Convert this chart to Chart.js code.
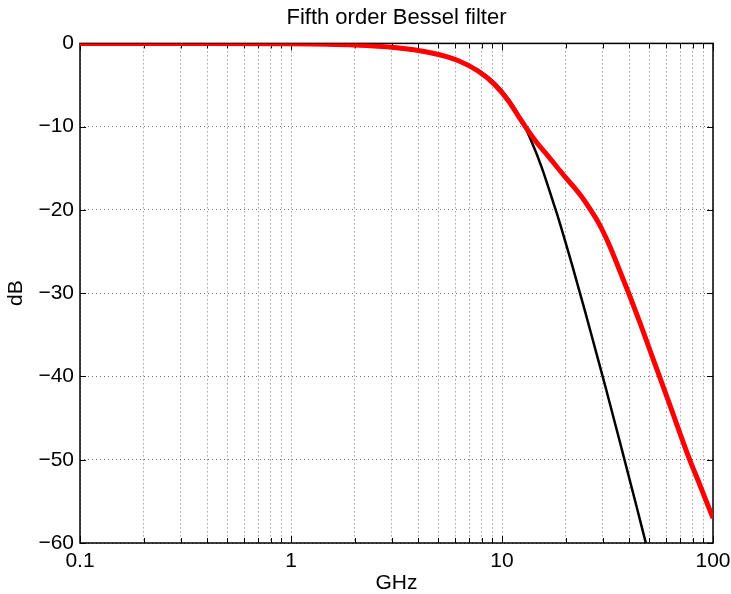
<!DOCTYPE html>
<html>
<head>
<meta charset="utf-8">
<script src="https://cdn.jsdelivr.net/npm/chart.js@4/dist/chart.umd.min.js"></script>
<style>
  html, body { margin: 0; padding: 0; background: #fff; }
  #wrap { width: 731px; height: 594px; }
</style>
</head>
<body>
<div id="wrap"><canvas id="besselChart" width="731" height="594"></canvas></div>
<script>
// Fifth order Bessel filter - magnitude response
const freqBlack = [0.1, 0.3, 0.5, 1, 1.55, 2, 3.09, 4.64, 6.18, 7.73, 9.27, 10.8, 12.36, 13.9, 15.45, 17.6, 18.5, 21.6, 24.7, 27.8, 30.9, 37.1, 43.3, 49.4];
const dbBlack   = [0, -0.01, -0.02, -0.05, -0.12, -0.2, -0.49, -1.11, -2.0, -3.21, -4.78, -6.77, -9.19, -11.96, -14.94, -19.3, -21.0, -26.8, -32.1, -36.9, -41.2, -48.9, -55.5, -61.2];

const freqRed = [0.1, 0.3, 1, 2, 3.09, 4.64, 6.18, 7.73, 9.27, 10.8, 12, 12.9, 14.7, 16.5, 18.3, 20, 22, 24, 26, 28, 30, 33, 36, 40, 45, 50, 55.6, 62, 69, 77, 85, 92, 100];
const dbRed   = [0, -0.01, -0.05, -0.2, -0.5, -1.15, -2.05, -3.35, -5.0, -7.0, -8.8, -10, -12, -13.5, -14.9, -16.1, -17.3, -18.5, -19.8, -21.1, -22.5, -24.8, -27.2, -30.1, -33.5, -36.7, -39.9, -43.2, -46.5, -49.8, -52.5, -54.7, -57];

// axis ticks
const xMajorTicks = [0.1, 1, 10, 100];
const xTickLabels = ['0.1', '1', '10', '100'];
const xMinorSteps = [2, 3, 4, 5, 6, 7, 8, 9];
const yTicks = [0, -10, -20, -30, -40, -50, -60];

// every grid position on the log axis: decades plus 2..9 in between
const xGridValues = [];
xMajorTicks.forEach((d, i) => {
  xGridValues.push(d);
  if (i < xMajorTicks.length - 1) {
    xMinorSteps.forEach(m => xGridValues.push(Number((m * d).toPrecision(3))));
  }
});

const toPoints = (xs, ys) => xs.map((x, i) => ({ x: x, y: ys[i] }));

const FONT = "'Liberation Sans', Arial, Helvetica, sans-serif";

// box around the axes with inward tick marks (MATLAB style)
const axesBox = {
  id: 'axesBox',
  beforeDatasetsDraw(chart) {
    const { ctx, chartArea: a, scales: { x, y } } = chart;
    ctx.save();
    ctx.strokeStyle = '#000';
    ctx.lineWidth = 1;
    ctx.beginPath();
    xGridValues.forEach(v => {
      const px = Math.round(x.getPixelForValue(v)) + 0.5;
      const len = xMajorTicks.includes(v) ? 7 : 5;
      ctx.moveTo(px, a.bottom); ctx.lineTo(px, a.bottom - len);
      ctx.moveTo(px, a.top); ctx.lineTo(px, a.top + len);
    });
    yTicks.forEach(v => {
      const py = Math.round(y.getPixelForValue(v)) + 0.5;
      ctx.moveTo(a.left, py); ctx.lineTo(a.left + 6, py);
      ctx.moveTo(a.right, py); ctx.lineTo(a.right - 6, py);
    });
    ctx.stroke();
    ctx.lineWidth = 1.5;
    ctx.strokeRect(a.left, a.top, a.right - a.left, a.bottom - a.top);
    ctx.restore();
  }
};

const besselChart = new Chart(document.getElementById('besselChart'), {
  type: 'line',
  data: {
    datasets: [{
      label: 'Bessel',
      data: toPoints(freqBlack, dbBlack),
      borderColor: '#000000',
      borderWidth: 2.5,
      pointRadius: 0,
      cubicInterpolationMode: 'monotone',
      order: 2
    }, {
      label: 'Measured',
      data: toPoints(freqRed, dbRed),
      borderColor: '#ff0000',
      borderWidth: 5,
      pointRadius: 0,
      cubicInterpolationMode: 'monotone',
      order: 1
    }]
  },
  options: {
    responsive: false,
    animation: false,
    layout: { padding: { left: 0, right: 18, top: 0, bottom: 0 } },
    scales: {
      x: {
        type: 'logarithmic',
        min: 0.1,
        max: 100,
        afterBuildTicks: (scale) => {
          scale.ticks = xGridValues.map(v => ({ value: v }));
        },
        afterFit: (scale) => {
          scale.height = 51;
          scale.paddingLeft = 0;
          scale.paddingRight = 0;
        },
        grid: {
          color: 'rgba(0,0,0,0.55)',
          lineWidth: 1,
          drawTicks: false
        },
        border: { display: false, dash: [1, 3] },
        ticks: {
          autoSkip: false,
          maxRotation: 0,
          padding: 6,
          color: '#000',
          font: { family: FONT, size: 21 },
          callback: (v) => {
            const i = xMajorTicks.indexOf(v);
            return i >= 0 ? xTickLabels[i] : '';
          }
        },
        title: {
          display: true,
          text: 'GHz',
          color: '#000',
          padding: { top: 0, bottom: 0 },
          font: { family: FONT, size: 21, lineHeight: 1 }
        }
      },
      y: {
        min: -60,
        max: 0,
        afterBuildTicks: (scale) => {
          scale.ticks = yTicks.map(v => ({ value: v }));
        },
        afterFit: (scale) => { scale.width = 80; },
        grid: {
          color: 'rgba(0,0,0,0.55)',
          lineWidth: 1,
          drawTicks: false
        },
        border: { display: false, dash: [1, 3] },
        ticks: {
          padding: 6,
          color: '#000',
          font: { family: FONT, size: 21 },
          callback: (v) => v === 0 ? '0' : '\u2212' + Math.abs(v)
        },
        title: {
          display: true,
          text: 'dB',
          color: '#000',
          padding: { top: 6, bottom: 0 },
          font: { family: FONT, size: 21, lineHeight: 1 }
        }
      }
    },
    plugins: {
      legend: { display: false },
      tooltip: { enabled: false },
      title: {
        display: true,
        text: 'Fifth order Bessel filter',
        fullSize: false,
        color: '#000',
        padding: { top: 5, bottom: 12 },
        font: { family: FONT, size: 22, weight: 'normal' }
      }
    }
  },
  plugins: [axesBox]
});
</script>
</body>
</html>
